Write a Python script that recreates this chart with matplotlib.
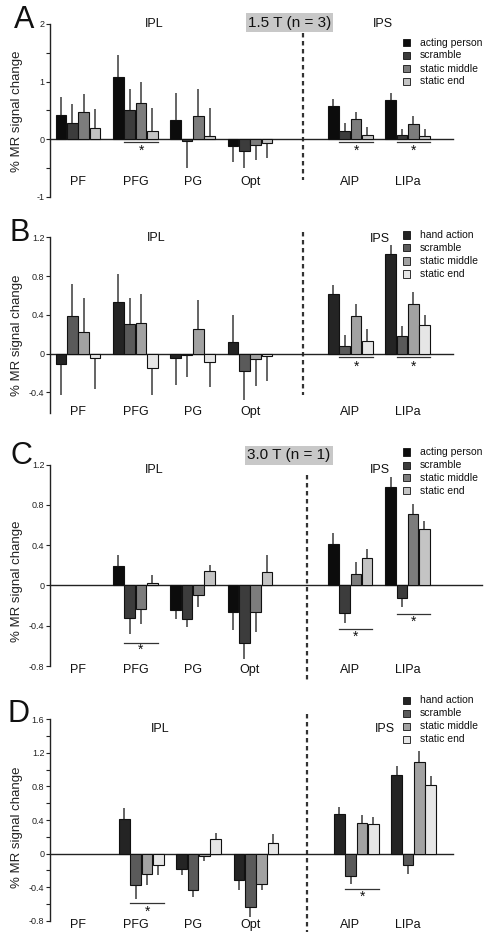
import numpy as np
import matplotlib
matplotlib.use('Agg')
import matplotlib.pyplot as plt
from matplotlib.patches import Rectangle

plt.rcParams['font.family'] = ['Liberation Sans', 'DejaVu Sans']

W, H = 494, 944
nan = np.nan

regions = ['PF', 'PFG', 'PG', 'Opt', 'AIP', 'LIPa']
region_x = [0, 1, 2, 3, 4.75, 5.75]

labels_person = ['acting person', 'scramble', 'static middle', 'static end']
labels_hand = ['hand action', 'scramble', 'static middle', 'static end']

# A: 1.5 T, acting person
a_mean = [[0.43, 1.08, 0.33, -0.11, 0.57, 0.68],
          [0.28, 0.50, -0.03, -0.20, 0.15, 0.07],
          [0.47, 0.63, 0.41, -0.10, 0.36, 0.27],
          [0.19, 0.14, 0.05, -0.06, 0.07, 0.05]]
a_err = [[0.30, 0.39, 0.47, 0.28, 0.13, 0.12],
         [0.33, 0.37, 0.47, 0.30, 0.13, 0.11],
         [0.31, 0.37, 0.47, 0.25, 0.11, 0.13],
         [0.33, 0.40, 0.49, 0.27, 0.14, 0.13]]
# B: 1.5 T, hand action
b_mean = [[-0.11, 0.53, -0.045, 0.12, 0.61, 1.03],
          [0.39, 0.31, -0.014, -0.18, 0.08, 0.18],
          [0.22, 0.32, 0.25, -0.06, 0.39, 0.51],
          [-0.05, -0.15, -0.09, -0.02, 0.13, 0.29]]
b_err = [[0.32, 0.29, 0.275, 0.28, 0.10, 0.09],
         [0.33, 0.26, 0.23, 0.30, 0.11, 0.10],
         [0.35, 0.29, 0.30, 0.27, 0.12, 0.13],
         [0.32, 0.28, 0.25, 0.26, 0.12, 0.11]]
# C: 3.0 T, acting person
c_mean = [[nan, 0.19, -0.24, -0.26, 0.41, 0.98],
          [nan, -0.32, -0.33, -0.57, -0.27, -0.13],
          [nan, -0.23, -0.10, -0.26, 0.11, 0.71],
          [nan, 0.023, 0.14, 0.13, 0.27, 0.56]]
c_err = [[nan, 0.11, 0.09, 0.18, 0.11, 0.10],
         [nan, 0.16, 0.08, 0.16, 0.10, 0.08],
         [nan, 0.15, 0.11, 0.20, 0.12, 0.10],
         [nan, 0.085, 0.06, 0.17, 0.09, 0.08]]
# D: 3.0 T, hand action
d_mean = [[nan, 0.41, -0.18, -0.31, 0.475, 0.94],
          [nan, -0.38, -0.44, -0.64, -0.27, -0.14],
          [nan, -0.24, -0.024, -0.36, 0.36, 1.09],
          [nan, -0.14, 0.17, 0.13, 0.35, 0.82]]
d_err = [[nan, 0.13, 0.07, 0.13, 0.075, 0.10],
         [nan, 0.16, 0.08, 0.11, 0.09, 0.10],
         [nan, 0.14, 0.063, 0.08, 0.095, 0.13],
         [nan, 0.12, 0.07, 0.10, 0.08, 0.10]]

# significance bars: (region index, line y, star y)
a_sig = [(1, -0.05, -0.19), (4, -0.05, -0.19), (5, -0.05, -0.19)]
b_sig = [(4, -0.035, -0.14), (5, -0.035, -0.14)]
c_sig = [(1, -0.57, -0.64), (4, -0.43, -0.51), (5, -0.28, -0.36)]
d_sig = [(1, -0.59, -0.69), (4, -0.42, -0.52)]

a_ticks = [-1, 0, 1, 2]
a_ticklabels = ['-1', '0', '1', '2']
b_ticks = [-0.4, 0, 0.4, 0.8, 1.2]
b_ticklabels = ['-0.4', '0', '0.4', '0.8', '1.2']
c_ticks = [-0.8, -0.4, 0, 0.4, 0.8, 1.2]
c_ticklabels = ['-0.8', '-0.4', '0', '0.4', '0.8', '1.2']
d_ticks = [-0.8, -0.4, 0, 0.4, 0.8, 1.2, 1.6]
d_ticklabels = ['-0.8', '-0.4', '0', '0.4', '0.8', '1.2', '1.6']

colors_person = ['#0c0c0c', '#3c3c3c', '#7c7c7c', '#c4c4c4']
colors_hand = ['#242424', '#5a5a5a', '#a2a2a2', '#e6e6e6']

pitch = 0.197
bw = 0.186

fig = plt.figure(figsize=(W / 100, H / 100), dpi=100)

panels = [
    # letter, mean, err, sig, labels, colors, ticks, ticklabels, minor, pixel box, ylim, xmax, div, shift, ...
    dict(letter='A', lpos=(24, 20), mean=a_mean, err=a_err, sig=a_sig, labels=labels_person,
         colors=colors_person, ticks=a_ticks, tl=a_ticklabels, minor=0.5,
         box=(50, 24, 403, 197), ylim=(-1, 2), xmax=6.54, div=3.92, divy=(1.84, -0.70), shift=0,
         rlab_y=-0.74, ipl=(1.32, 2.0), ips=(5.32, 2.0), leg_y=42.5, ylab_y=0.497),
    dict(letter='B', lpos=(20, 233), mean=b_mean, err=b_err, sig=b_sig, labels=labels_hand,
         colors=colors_hand, ticks=b_ticks, tl=b_ticklabels, minor=None,
         box=(50, 237.3, 403, 412.7), ylim=(-0.61, 1.2), xmax=6.54, div=3.92, divy=(1.25, -0.43), shift=0,
         rlab_y=-0.60, ipl=(1.37, 1.19), ips=(5.26, 1.18), leg_y=235, ylab_y=0.443),
    dict(letter='C', lpos=(21, 456), mean=c_mean, err=c_err, sig=c_sig, labels=labels_person,
         colors=colors_person, ticks=c_ticks, tl=c_ticklabels, minor=None,
         box=(50, 464.5, 432, 666), ylim=(-0.8, 1.2), xmax=7.05, div=4.0, divy=(1.1, -0.96), shift=0,
         rlab_y=-0.835, ipl=(1.32, 1.15), ips=(5.26, 1.15), leg_y=452, ylab_y=0.42),
    dict(letter='D', lpos=(18, 714), mean=d_mean, err=d_err, sig=d_sig, labels=labels_hand,
         colors=colors_hand, ticks=d_ticks, tl=d_ticklabels, minor=0.2,
         box=(50, 719.3, 403, 920.7), ylim=(-0.8, 1.6), xmax=6.54, div=4.0, divy=(1.66, -0.94), shift=0.105,
         rlab_y=-0.85, ipl=(1.44, 1.48), ips=(5.35, 1.48), leg_y=700, ylab_y=0.465),
]

for p in panels:
    x0, ytop, w, ybot = p['box']
    ax = fig.add_axes([x0 / W, 1 - ybot / H, w / W, (ybot - ytop) / H])
    ax.set_xlim(-0.49, p['xmax'])
    ax.set_ylim(*p['ylim'])
    for s in ['top', 'right']:
        ax.spines[s].set_visible(False)
    ax.spines['bottom'].set_position(('data', 0))
    ax.spines['bottom'].set_color('#222222')
    ax.spines['left'].set_color('#222222')
    ax.spines['left'].set_linewidth(1.0)
    ax.spines['bottom'].set_linewidth(1.0)
    ax.set_xticks([])
    ax.set_yticks(p['ticks'])
    ax.set_yticklabels(p['tl'])
    if p['minor']:
        ax.set_yticks(np.arange(p['ylim'][0], p['ylim'][1] + 1e-6, p['minor']), minor=True)
    ax.tick_params(axis='y', which='both', length=3, width=0.8, labelsize=6.5,
                   colors='#222222', pad=1)
    ax.set_ylabel('% MR signal change', fontsize=9.5, color='#222222')
    ax.yaxis.set_label_coords(-27 / w, p['ylab_y'])

    xs = np.array(region_x) + p['shift']
    for k in range(4):
        m = np.array(p['mean'][k])
        e = np.array(p['err'][k])
        xb = xs + (k - 1.5) * pitch
        ok = ~np.isnan(m)
        ax.bar(xb[ok], m[ok], bw, color=p['colors'][k], edgecolor='#111111',
               linewidth=0.8, zorder=3)
        lo = np.where(m[ok] < 0, e[ok], 0)
        hi = np.where(m[ok] >= 0, e[ok], 0)
        ax.errorbar(xb[ok], m[ok], yerr=[lo, hi], fmt='none', ecolor='#3a3a3a',
                    elinewidth=1.1, capsize=0, zorder=2)

    for (ri, ly, sy) in p['sig']:
        xl = xs[ri] - 0.5 * pitch - bw / 2
        xr = xs[ri] + 1.5 * pitch + bw / 2
        ax.plot([xl, xr], [ly, ly], color='#333333', lw=0.9, clip_on=False)
        ax.text((xl + xr) / 2, sy, '*', ha='center', va='center', fontsize=10,
                color='#111111', clip_on=False)

    ax.plot([p['div'], p['div']], list(p['divy']), color='#333333', lw=1.6,
            ls=(0, (2, 1.6)), clip_on=False)

    for rx, name in zip(region_x, regions):
        ax.text(rx, p['rlab_y'], name, ha='center', va='center', fontsize=9,
                color='#111111', clip_on=False)
    ax.text(p['ipl'][0], p['ipl'][1], 'IPL', ha='center', va='center', fontsize=9,
            color='#111111', clip_on=False)
    ax.text(p['ips'][0], p['ips'][1], 'IPS', ha='center', va='center', fontsize=9,
            color='#111111', clip_on=False)

    # legend
    for k, lab in enumerate(p['labels']):
        yc = p['leg_y'] + 13 * k
        fig.patches.append(Rectangle((403 / W, 1 - (yc + 3.5) / H), 7 / W, 7 / H,
                                     transform=fig.transFigure, facecolor=p['colors'][k],
                                     edgecolor='#111111', linewidth=0.6))
        fig.text(420 / W, 1 - yc / H, lab, ha='left', va='center', fontsize=7.5,
                 color='#111111')

    fig.text(p['lpos'][0] / W, 1 - p['lpos'][1] / H, p['letter'], ha='center',
             va='center', fontsize=22, color='#111111')

box = dict(facecolor='#c8c8c8', edgecolor='none', pad=1.5)
fig.text(289.5 / W, 1 - 22.5 / H, '1.5 T (n = 3)', ha='center', va='center',
         fontsize=11, color='#111111', bbox=box)
fig.text(289 / W, 1 - 455.5 / H, '3.0 T (n = 1)', ha='center', va='center',
         fontsize=11, color='#111111', bbox=box)

fig.savefig('out.png', dpi=100)
